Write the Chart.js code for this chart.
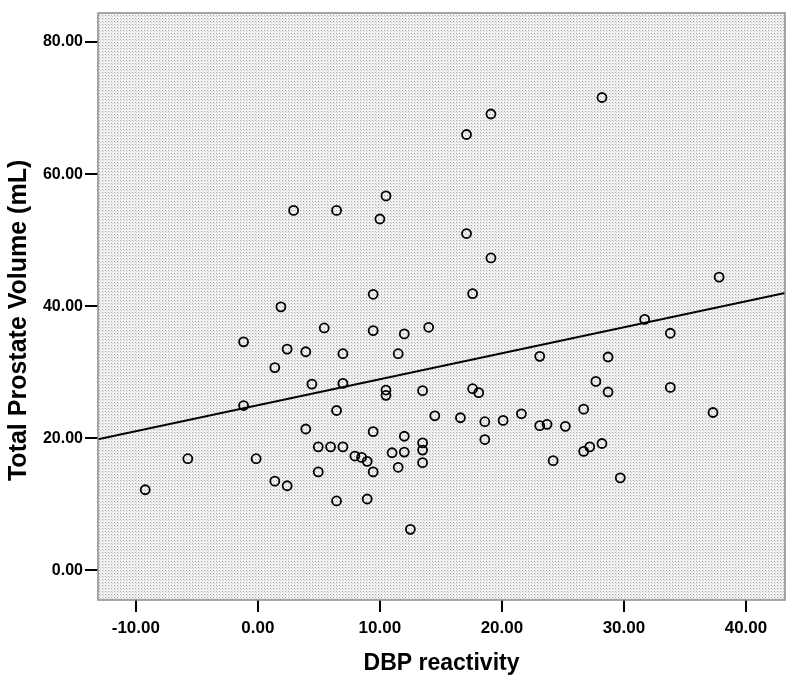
<!DOCTYPE html>
<html>
<head>
<meta charset="utf-8">
<script src="https://cdn.jsdelivr.net/npm/chart.js@4"></script>
<style>
  html, body { margin: 0; padding: 0; background: #fff; }
  #wrap { width: 800px; height: 677px; }
</style>
</head>
<body>
<div id="wrap"><canvas id="grafica"></canvas></div>
<script>
// valores
const dbpX = [2.93, 6.45, 10.5, 10.0, 9.45, 28.2, 19.1, 17.1, 17.1, 19.1,
  37.8, 17.6, 1.89, 5.44, 9.45, 12.0, 14.0, -1.17, 2.4, 3.93,
  6.97, 11.5, 1.39, 4.43, 6.97, 10.5, 10.5, 13.5, -1.17, 6.45,
  14.5, 3.93, 9.45, 12.0, 13.5, 13.5, 4.95, 5.96, 6.97, -5.74,
  -0.14, 7.95, 8.5, 8.96, 11.0, 12.0, 13.5, 11.5, 9.45, 4.95,
  -9.23, 1.39, 2.4, 6.45, 8.96, 12.5, 31.7, 33.8, 23.1, 28.7,
  27.7, 28.7, 33.8, 17.6, 18.1, 16.6, 18.6, 20.1, 21.6, 23.1,
  23.7, 25.2, 26.7, 37.3, 18.6, 26.7, 27.2, 28.2, 24.2, 29.7];
const volumenY = [54.5, 54.5, 56.7, 53.2, 41.8, 71.6, 69.1, 66.0, 51.0, 47.3,
  44.4, 41.9, 39.9, 36.7, 36.3, 35.8, 36.8, 34.6, 33.5, 33.1,
  32.8, 32.8, 30.7, 28.2, 28.3, 27.3, 26.5, 27.2, 24.95, 24.2,
  23.4, 21.4, 21.0, 20.3, 19.3, 18.2, 18.7, 18.7, 18.7, 16.9,
  16.9, 17.3, 17.1, 16.5, 17.8, 17.9, 16.3, 15.6, 14.9, 14.9,
  12.2, 13.5, 12.8, 10.5, 10.8, 6.2, 38.0, 35.9, 32.4, 32.3,
  28.6, 27.0, 27.7, 27.5, 26.9, 23.1, 22.5, 22.7, 23.7, 21.9,
  22.1, 21.8, 24.4, 23.9, 19.8, 18.0, 18.7, 19.2, 16.6, 14.0];

// recta de ajuste (extremos leidos)
const ajusteX = [-13.1, 43.2];
const ajusteY = [19.85, 42.0];

const ticksX = [-10, 0, 10, 20, 30, 40];
const ticksY = [0, 20, 40, 60, 80];

const puntos = dbpX.map((x, i) => ({ x: x, y: volumenY[i] }));
const linea = ajusteX.map((x, i) => ({ x: x, y: ajusteY[i] }));

// fondo punteado estilo SPSS
const fondoPunteado = {
  id: 'fondoPunteado',
  beforeDraw(chart) {
    const { ctx, chartArea: a } = chart;
    const tile = document.createElement('canvas');
    tile.width = 3; tile.height = 3;
    const t = tile.getContext('2d');
    t.fillStyle = '#f2f2f2';
    t.fillRect(0, 0, 3, 3);
    t.fillStyle = '#a8a8a8';
    t.fillRect(0, 0, 1, 1);
    t.fillStyle = '#d0d0d0';
    t.fillRect(1, 1, 1, 1);
    ctx.save();
    ctx.fillStyle = ctx.createPattern(tile, 'repeat');
    ctx.fillRect(a.left, a.top, a.right - a.left, a.bottom - a.top);
    ctx.restore();
  },
  afterDraw(chart) {
    const { ctx, chartArea: a } = chart;
    ctx.save();
    ctx.strokeStyle = '#8a8a8a';
    ctx.lineWidth = 1.5;
    ctx.strokeRect(a.left, a.top, a.right - a.left, a.bottom - a.top);
    ctx.restore();
  }
};

const fmt = v => Number(v).toFixed(2);

new Chart(document.getElementById('grafica'), {
  type: 'scatter',
  data: {
    datasets: [
      {
        label: 'Volumen',
        data: puntos,
        pointRadius: 4.5,
        pointBorderWidth: 1.8,
        pointBorderColor: '#000',
        pointBackgroundColor: 'rgba(0,0,0,0)',
        pointHoverRadius: 4.5
      },
      {
        label: 'Ajuste',
        type: 'line',
        data: linea,
        borderColor: '#000',
        borderWidth: 2,
        pointRadius: 0,
        fill: false
      }
    ]
  },
  options: {
    responsive: true,
    maintainAspectRatio: false,
    animation: false,
    layout: { padding: { top: 13, right: 15, left: 0, bottom: 0 } },
    plugins: {
      legend: { display: false },
      tooltip: { enabled: false }
    },
    scales: {
      x: {
        type: 'linear',
        min: -13.1,
        max: 43.2,
        afterBuildTicks: s => { s.ticks = ticksX.map(v => ({ value: v })); },
        afterFit: s => { s.height = 77; },
        grid: { drawOnChartArea: false, drawTicks: true, tickLength: 12, color: '#000', lineWidth: 2 },
        border: { display: false },
        ticks: {
          color: '#000',
          padding: 6,
          font: { family: 'Liberation Sans', size: 17, weight: 'bold' },
          callback: v => fmt(v)
        },
        title: {
          display: true,
          text: 'DBP reactivity',
          color: '#000',
          padding: { top: 2, bottom: 0 },
          font: { family: 'Liberation Sans', size: 23, weight: 'bold' }
        }
      },
      y: {
        type: 'linear',
        min: -4.5,
        max: 84.4,
        afterBuildTicks: s => { s.ticks = ticksY.map(v => ({ value: v })); },
        afterFit: s => { s.width = 98; },
        grid: { drawOnChartArea: false, drawTicks: true, tickLength: 13, color: '#000', lineWidth: 2 },
        border: { display: false },
        ticks: {
          color: '#000',
          padding: 2,
          font: { family: 'Liberation Sans', size: 16, weight: 'bold' },
          callback: v => fmt(v)
        },
        title: {
          display: true,
          text: 'Total Prostate Volume (mL)    ',
          color: '#000',
          padding: { top: 4, bottom: 0 },
          font: { family: 'Liberation Sans', size: 25, weight: 'bold' }
        }
      }
    }
  },
  plugins: [fondoPunteado]
});
</script>
</body>
</html>
